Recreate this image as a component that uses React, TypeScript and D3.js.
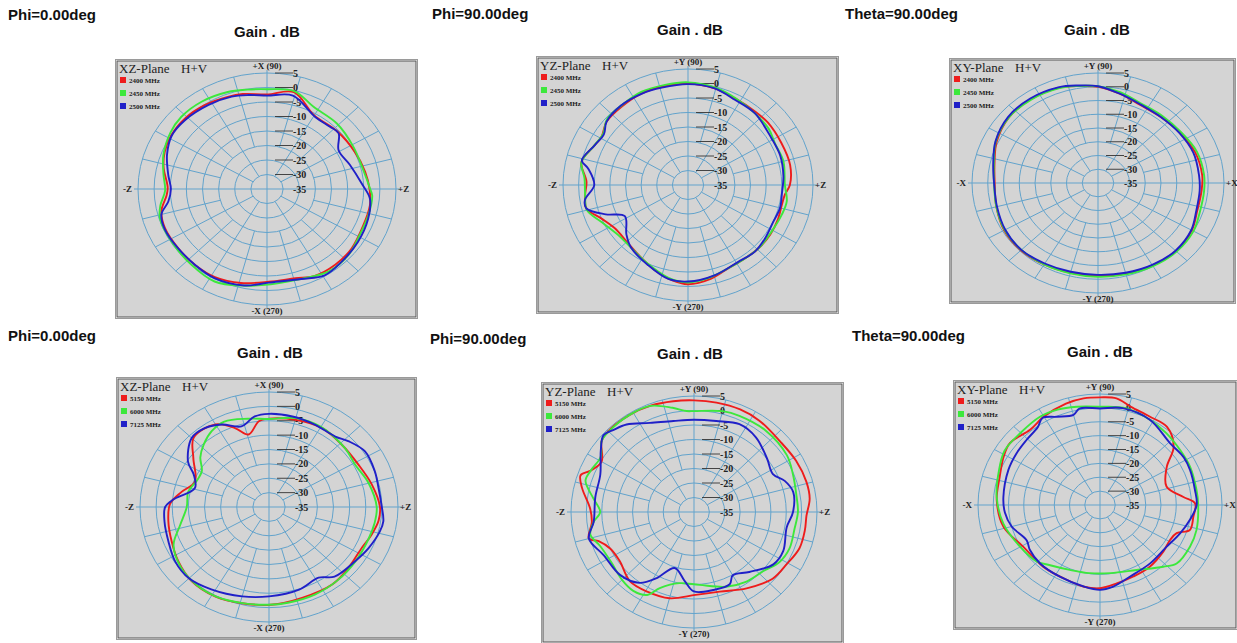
import React from 'react';
import * as d3 from 'd3';

type Pt = [number, number];

// ---------- tick labels / categories ----------
const ringTickValues = [5, 0, -5, -10, -15, -20, -25, -30, -35];
const ringValues = [-30, -25, -20, -15, -10, -5, 0, 5];
const freqLow = ['2400 MHz', '2450 MHz', '2500 MHz'];
const freqHigh = ['5150 MHz', '6000 MHz', '7125 MHz'];
const cutTitles = ['Phi=0.00deg', 'Phi=90.00deg', 'Theta=90.00deg', 'Phi=0.00deg', 'Phi=90.00deg', 'Theta=90.00deg'];
const planeTitles = ['XZ-Plane', 'YZ-Plane', 'XY-Plane', 'XZ-Plane', 'YZ-Plane', 'XY-Plane'];
const axisLabelsXZ = ['+X (90)', '-X (270)', '-Z', '+Z'];
const axisLabelsYZ = ['+Y (90)', '-Y (270)', '-Z', '+Z'];
const axisLabelsXY = ['+Y (90)', '-Y (270)', '-X', '+X'];

// ---------- series: [angle deg, gain dB] ----------
const xzLow2400: Pt[] = [[90,-2.4],[76,-0.6],[60,-5.7],[42,-5.5],[25,-4.9],[11,-4.0],[0,-3.2],[350,-2.6],[337,-2.6],[322,-1.7],[309,-1.4],[296,-1.6],[286,-3.0],[271,-3.0],[256,-1.6],[242,-0.6],[230,-0.6],[217,-0.7],[203,-0.6],[193,-1.4],[184,-3.8],[179,-4.2],[167,-2.1],[158,-0.8],[148,0],[136,0.2],[124,-0.2],[111,-1.0],[103,-1.4]];
const xzLow2450: Pt[] = [[90,-0.6],[76,-0.2],[63,-3.2],[46,-3.7],[29,-4.5],[12,-4.4],[0,-3.0],[356,-2.3],[344,-2.3],[330,-2.1],[318,-1.0],[304,-0.7],[289,-2.2],[272,-2.1],[257,-0.8],[243,0.8],[228,0.1],[212,-0.3],[197,-0.3],[190,-1.4],[181,-3.4],[171,-2.5],[160,-0.8],[147,0.7],[137,1.4],[124,1.3],[110,0.6],[100,-0.2]];
const xzLow2500: Pt[] = [[90,-2.8],[76,-1.8],[59,-6.0],[48,-6.0],[41,-5.6],[31,-9.1],[18,-8.0],[3,-5.4],[354,-2.9],[342,-2.0],[327,-1.4],[313,-0.9],[301,-0.3],[289,-2.2],[271,-2.7],[258,-1.0],[242,-0.2],[230,-0.6],[217,-0.7],[204,-0.4],[195,-1.1],[188,-4.1],[180,-5.2],[171,-4.0],[159,-1.8],[148,-0.2],[137,-0.2],[122,-0.8],[109,-1.3],[100,-2.1]];

const yzLow2400: Pt[] = [[90,0],[76,-0.6],[63,-1.6],[50,-1.8],[40,-1.6],[26,-1.8],[12,-1.6],[0,-2.4],[354,-3.8],[347,-4.2],[338,-3.9],[327,-3.6],[316,-3.6],[306,-3.8],[294,-3.5],[283,-1.9],[270,-0.8],[261,-1.8],[250,-3.8],[237,-6.1],[225,-7.3],[213,-7.3],[203,-5.1],[194,-1.5],[186,-1.9],[178,-2.5],[167,0],[156,-2.0],[149,-2.7],[140,-1.0],[128,-0.6],[115,-0.1],[102,0]];
const yzLow2450: Pt[] = [[90,0.4],[75,-0.3],[63,-1.4],[49,-2.3],[37,-2.7],[27,-3.7],[15,-3.4],[0,-4.0],[350,-2.9],[341,-3.3],[329,-3.8],[317,-3.6],[306,-3.8],[292,-3.4],[281,-2.2],[270,-1.4],[259,-2.4],[243,-5.2],[230,-6.7],[218,-6.8],[205,-4.6],[195,-1.5],[186,-1.9],[176,-1.8],[167,0],[156,-2.0],[147,-2.6],[139,-0.6],[128,-0.3],[115,0.4],[102,0.3]];
const yzLow2500: Pt[] = [[90,-0.2],[76,-0.6],[63,-2.0],[49,-2.3],[31,-3.8],[19,-3.8],[6,-4.3],[354,-4.8],[345,-4.5],[335,-4.9],[323,-4.2],[313,-3.6],[301,-4.0],[286,-2.8],[270,-1.7],[259,-2.0],[245,-4.6],[230,-6.7],[221,-8.9],[208,-12.1],[201,-6.8],[194,-1.5],[189,-1.6],[180,-5.0],[170,-2.6],[166,0],[155,-2.2],[147,-2.9],[140,-1.0],[128,-0.2],[115,-0.2],[104,-0.4]];

const xyLow2400: Pt[] = [[90,0],[100,0.8],[110,1.8],[125,2.2],[140,2.0],[155,0.5],[168,-1.4],[180,-2.2],[195,-1.6],[210,-0.6],[225,-0.4],[240,-0.8],[255,-1.2],[270,-1.2],[285,-0.9],[300,-0.4],[315,0],[330,-0.6],[342,-1.9],[355,-2.0],[5,-1.8],[20,-2.2],[35,-3.2],[50,-3.8],[65,-3.6],[78,-1.8]];
const xyLow2450: Pt[] = [[90,0.2],[100,0.8],[110,1.6],[125,2.0],[140,2.0],[155,0.8],[168,-1.2],[180,-2.0],[195,-1.6],[210,-0.8],[225,-0.6],[240,-0.8],[255,-1.0],[270,-0.9],[285,-0.6],[300,-0.1],[315,0.3],[330,0],[342,-1.0],[355,-1.2],[5,-1.2],[20,-1.6],[35,-2.8],[50,-3.2],[65,-3.0],[78,-1.2]];
const xyLow2500: Pt[] = [[90,0.2],[100,1.0],[110,2.0],[125,2.5],[140,2.3],[155,0.9],[168,-1.0],[180,-2.0],[195,-1.8],[210,-1.0],[225,-0.6],[240,-1.2],[255,-1.6],[270,-1.6],[285,-1.2],[300,-0.6],[315,-0.2],[330,-0.8],[342,-2.2],[355,-2.6],[5,-2.8],[20,-2.8],[35,-3.4],[50,-3.8],[65,-3.4],[78,-1.8]];

const xzHigh5150: Pt[] = [[90,-4.3],[75,-3.6],[59,-3.0],[44,-3.7],[28,-3.6],[14,-2.2],[0,-0.6],[352,-0.7],[343,-1.8],[334,-2.9],[319,-2.5],[306,-1.7],[288,-1.8],[271,-1.0],[256,-0.5],[242,0.3],[227,0.2],[214,-1.1],[202,-2.5],[189,-3.4],[178,-4.3],[169,-7.4],[159,-10.4],[144,-6.0],[134,-1.4],[120,-1.8],[111,-5.6],[104,-9.0],[96,-5.0]];
const xzHigh6000: Pt[] = [[90,-4.4],[75,-3.0],[60,-2.8],[41,-3.8],[29,-4.5],[15,-3.0],[0,-1.6],[350,-1.8],[340,-2.2],[325,-2.2],[310,-1.8],[295,-1.4],[280,-1.2],[270,-1.0],[257,-0.6],[243,0.2],[230,0.2],[217,-0.6],[204,-2.6],[193,-6.7],[180,-9.5],[168,-9.4],[158,-10.8],[149,-10.7],[141,-7.6],[133,-5.3],[124,-3.2],[115,-2.2],[102,-3.6]];
const xzHigh7125: Pt[] = [[90,-2.6],[77,-2.7],[64,-3.0],[50,-3.0],[43,-1.4],[33,0.5],[21,0.1],[11,-0.4],[1,-0.1],[352,0.8],[346,0.4],[335,-1.0],[325,-2.3],[310,-3.4],[302,-6.0],[288,-4.8],[270,-3.9],[255,-2.8],[238,-1.2],[225,0.1],[213,-0.3],[201,-1.6],[189,-2.2],[180,-2.8],[175,-5.2],[164,-11.1],[154,-9.0],[148,-5.4],[135,-1.1],[126,-1.1],[117,-2.8],[107,-5.7],[98,-3.2]];

const yzHigh5150: Pt[] = [[90,3.5],[79,3.4],[67,3.4],[56,3.0],[41,2.1],[28,2.6],[16,3.0],[7,2.9],[358,1.6],[350,1.6],[340,1.5],[329,0.1],[318,-0.6],[303,-3.6],[287,-6.3],[271,-6.4],[255,-4.2],[241,-3.6],[229,-3.3],[215,-5.5],[205,-5.0],[198,-2.4],[195,0.4],[186,-1.6],[178,-1.2],[167,2.4],[161,4.0],[157,1.5],[150,-0.3],[141,3.7],[136,4.4],[122,4.5],[111,4.3],[100,3.8]];
const yzHigh6000: Pt[] = [[94,-0.1],[90,-0.2],[75,1.0],[66,1.3],[50,1.5],[33,1.0],[22,-0.3],[10,-1.2],[0,-1.2],[350,-1.8],[338,-1.5],[328,-2.3],[318,-4.6],[305,-5.6],[292,-7.2],[274,-9.8],[259,-10],[247,-6.5],[242,-2.6],[234,-1.4],[225,-1.9],[213,-3.0],[201,-2.3],[193,-0.4],[186,-2.2],[180,-4.5],[172,-2.0],[163,1.9],[157,1.5],[148,0.8],[141,3.7],[136,4.2],[122,4.5],[111,4.2],[101,1.6]];
const yzHigh7125: Pt[] = [[90,-3.2],[77,-2.8],[64,-1.3],[52,-2.3],[38,-4.9],[27,-6.2],[20,-3.6],[12,-2.0],[0,-2.8],[350,-4.4],[335,-3.0],[325,-3.5],[311,-7.6],[300,-9.8],[295,-7.5],[283,-7.4],[270,-7.6],[263,-10.9],[252,-14.7],[242,-9.2],[234,-4.8],[222,-2.6],[207,-2.1],[195,0.4],[186,-2.2],[171,-2.5],[157,-1.9],[145,2.0],[138,4.6],[133,3.6],[126,2.3],[115,-1.1],[102,-2.9]];

const xyHigh5150: Pt[] = [[90,3.8],[82,3.8],[74,1.8],[63,0.8],[52,0.7],[41,-3.0],[32,-9.2],[17,-12.2],[6,-7.5],[1,-3.8],[352,-4.1],[343,-4.2],[338,-7.9],[331,-8.8],[321,-8.3],[306,-7.4],[293,-7.0],[281,-6.2],[270,-5.0],[260,-5.1],[246,-6.0],[230,-6.0],[211,-5.7],[194,-2.4],[177,-1.1],[163,-0.6],[151,1.1],[143,2.0],[130,0.5],[120,1.8],[107,3.2],[98,3.8]];
const xyHigh6000: Pt[] = [[90,0.4],[76,0.9],[62,-0.2],[50,-1.2],[37,-2.1],[25,-2.4],[10,-2.9],[0,-2.8],[344,-2.1],[333,-1.9],[320,-2.2],[313,-4.6],[297,-8.7],[278,-10.2],[262,-10.2],[247,-9.6],[233,-7.8],[224,-5.9],[210,-4.8],[192,-2.6],[175,-1.0],[161,0.2],[148,1.9],[135,1.8],[122,2.4],[112,2.1],[102,1.2]];
const xyHigh7125: Pt[] = [[90,-0.2],[78,0.7],[62,-0.2],[44,-3.0],[32,-2.6],[23,-2.9],[10,-3.4],[0,-3.3],[350,-5.0],[339,-6.8],[325,-8.5],[308,-8.3],[291,-7.4],[278,-5.2],[270,-4.4],[260,-5.1],[243,-6.0],[227,-6.2],[215,-6.9],[208,-7.8],[195,-5.0],[185,-3.7],[175,-3.2],[157,-2.4],[146,-1.9],[136,-1.4],[126,-0.3],[121,1.6],[114,-0.2],[105,-1.4],[101,0.4]];

// ---------- styles & layout ----------
const seriesColors = ['#ee1c1c', '#3ce83c', '#2020c8'];
const gridColor = '#62a3cc';
const boxFill = '#d4d4d4';

interface PanelCfg {
  title: string; plane: string; axes: string[]; freqs: string[]; series: Pt[][];
  titleX: number; titleY: number; gainX: number; gainY: number;
  bx0: number; by0: number; bx1: number; by1: number;
  cx: number; cy: number; rx: number; ry: number;
}

const panels: PanelCfg[] = [
  { title: cutTitles[0], plane: planeTitles[0], axes: axisLabelsXZ, freqs: freqLow, series: [xzLow2400, xzLow2450, xzLow2500],
    titleX: 8, titleY: 20, gainX: 267, gainY: 37, bx0: 117, by0: 61, bx1: 416, by1: 317, cx: 267, cy: 189, rx: 129, ry: 116 },
  { title: cutTitles[1], plane: planeTitles[1], axes: axisLabelsYZ, freqs: freqLow, series: [yzLow2400, yzLow2450, yzLow2500],
    titleX: 432, titleY: 19, gainX: 690, gainY: 35, bx0: 538, by0: 58, bx1: 837, by1: 312, cx: 688, cy: 185, rx: 125, ry: 116 },
  { title: cutTitles[2], plane: planeTitles[2], axes: axisLabelsXY, freqs: freqLow, series: [xyLow2400, xyLow2450, xyLow2500],
    titleX: 845, titleY: 19, gainX: 1097, gainY: 35, bx0: 951, by0: 60, bx1: 1234, by1: 302, cx: 1098, cy: 183, rx: 126, ry: 110 },
  { title: cutTitles[3], plane: planeTitles[3], axes: axisLabelsXZ, freqs: freqHigh, series: [xzHigh5150, xzHigh6000, xzHigh7125],
    titleX: 8, titleY: 341, gainX: 270, gainY: 358, bx0: 118, by0: 379, bx1: 415, by1: 638, cx: 269, cy: 507, rx: 129, ry: 115 },
  { title: cutTitles[4], plane: planeTitles[4], axes: axisLabelsYZ, freqs: freqHigh, series: [yzHigh5150, yzHigh6000, yzHigh7125],
    titleX: 430, titleY: 344, gainX: 690, gainY: 359, bx0: 543, by0: 384, bx1: 842, by1: 642, cx: 694, cy: 512, rx: 123, ry: 116 },
  { title: cutTitles[5], plane: planeTitles[5], axes: axisLabelsXY, freqs: freqHigh, series: [xyHigh5150, xyHigh6000, xyHigh7125],
    titleX: 852, titleY: 341, gainX: 1100, gainY: 357, bx0: 955, by0: 382, bx1: 1236, by1: 628, cx: 1100, cy: 505, rx: 122, ry: 111 },
];

const sansBold = { fontFamily: 'Arial, "Liberation Sans", sans-serif', fontWeight: 700 as const };
const serif = '"Liberation Serif", "Times New Roman", serif';

function Panel({ p }: { p: PanelCfg }) {
  const r = d3.scaleLinear().domain([-35, 5]).range([0, 1]);
  const rad = (a: number) => (a * Math.PI) / 180;
  const px = (a: number, db: number) => p.cx + p.rx * r(db) * Math.cos(rad(a));
  const py = (a: number, db: number) => p.cy - p.ry * r(db) * Math.sin(rad(a));
  const line = d3
    .line<Pt>()
    .x((d) => px(d[0], d[1]))
    .y((d) => py(d[0], d[1]))
    .curve(d3.curveCatmullRomClosed.alpha(0.5));
  const spokes = d3.range(0, 360, 15).filter((a) => a % 90 !== 0);

  return (
    <g>
      <text x={p.titleX} y={p.titleY} fontSize={15} {...sansBold} fill="#111">{p.title}</text>
      <text x={p.gainX} y={p.gainY} fontSize={15} {...sansBold} fill="#111" textAnchor="middle">Gain . dB</text>
      <rect x={p.bx0 - 1.5} y={p.by0 - 1.5} width={p.bx1 - p.bx0 + 3} height={p.by1 - p.by0 + 3} fill="none" stroke="#9a9a9a" strokeWidth={1} />
      <rect x={p.bx0} y={p.by0} width={p.bx1 - p.bx0} height={p.by1 - p.by0} fill={boxFill} stroke="#555" strokeWidth={1} />
      <g stroke={gridColor} fill="none" strokeWidth={1}>
        {ringValues.map((v) => (
          <ellipse key={v} cx={p.cx} cy={p.cy} rx={p.rx * r(v)} ry={p.ry * r(v)} />
        ))}
        {spokes.map((a) => {
          const inner = a % 30 === 0 ? -30 : -20;
          return <line key={a} x1={px(a, inner)} y1={py(a, inner)} x2={px(a, 5)} y2={py(a, 5)} />;
        })}
        <line x1={p.cx - p.rx - 4} y1={p.cy} x2={p.cx + p.rx + 4} y2={p.cy} />
        <line x1={p.cx} y1={p.cy - p.ry - 3} x2={p.cx} y2={p.cy + p.ry + 3} />
      </g>
      <g fontFamily={serif} fontSize={10} fontWeight={700} fill="#222">
        {ringTickValues.map((v) => {
          const y = p.cy - p.ry * r(v);
          return (
            <g key={v}>
              {v > -35 && <line x1={p.cx + 8} y1={y} x2={p.cx + 26} y2={y} stroke="#333" strokeWidth={0.9} />}
              <text x={p.cx + 26} y={y + 3.5}>{v}</text>
            </g>
          );
        })}
      </g>
      {p.series.map((s, i) => {
        const sorted = [...s].sort((a, b) => a[0] - b[0]);
        return <path key={i} d={line(sorted) || ''} fill="none" stroke={seriesColors[i]} strokeWidth={1.9} strokeLinejoin="round" />;
      })}
      <g fontFamily={serif} fontSize={9} fontWeight={700} fill="#222">
        <text x={p.cx} y={p.cy - p.ry - 4} textAnchor="middle">{p.axes[0]}</text>
        <text x={p.cx} y={p.cy + p.ry + 9} textAnchor="middle">{p.axes[1]}</text>
        <text x={p.cx - p.rx - 6} y={p.cy + 3} textAnchor="end">{p.axes[2]}</text>
        <text x={p.cx + p.rx + 2} y={p.cy + 3}>{p.axes[3]}</text>
      </g>
      <text x={p.bx0 + 2} y={p.by0 + 12} fontFamily={serif} fontSize={13} fill="#222">{p.plane}</text>
      <text x={p.bx0 + 64} y={p.by0 + 12} fontFamily={serif} fontSize={13} fill="#222">H+V</text>
      {p.freqs.map((f, i) => (
        <g key={f}>
          <rect x={p.bx0 + 3} y={p.by0 + 16 + i * 13} width={6} height={6} fill={seriesColors[i]} />
          <text x={p.bx0 + 12} y={p.by0 + 22 + i * 13} fontFamily={serif} fontSize={7} fontWeight={700} fill="#222">{f}</text>
        </g>
      ))}
    </g>
  );
}

export default function App() {
  return (
    <svg width={1237} height={643} style={{ position: 'absolute', left: 0, top: 0, background: '#fff' }}>
      <rect x={0} y={0} width={1237} height={643} fill="#fff" />
      {panels.map((p, i) => (
        <Panel key={i} p={p} />
      ))}
    </svg>
  );
}
